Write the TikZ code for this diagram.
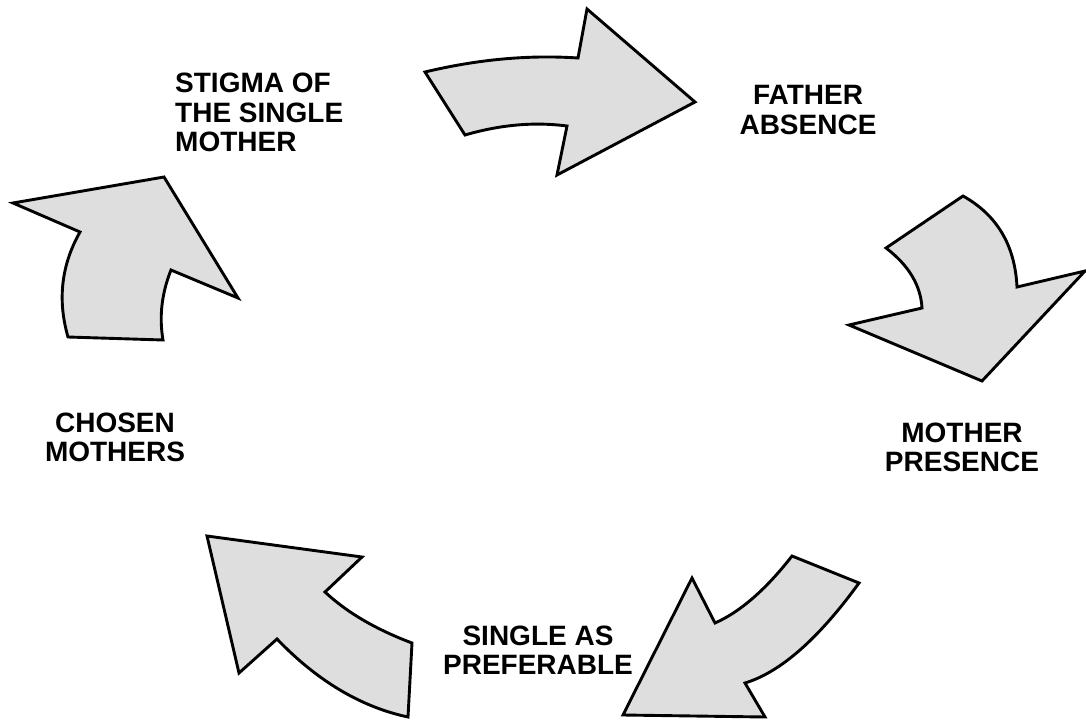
\documentclass[tikz,border=0pt]{standalone}
\usepackage{fontspec}
\setmainfont{Liberation Sans}
\begin{document}
\begin{tikzpicture}[x=1pt,y=-1pt,
  bigarrow/.style={draw=black, line width=2.9pt, fill=black!13, line join=miter, miter limit=20},
  lbl/.style={font=\fontsize{28}{29.5}\selectfont\bfseries, align=center, inner sep=0pt}]
\useasboundingbox (0,0) rectangle (1086,725);
% top arrow
\path[bigarrow] (425,72) -- (465,135) .. controls (500.3,124.7) and (534.3,121.7) .. (567,126)
  -- (557,175) -- (695,102) -- (587,9) -- (578,58) .. controls (529,54.7) and (478,59.3) .. cycle;
% right arrow
\path[bigarrow] (963,196) -- (886,248) .. controls (908.7,265.3) and (920.7,285.3) .. (922,308)
  -- (849,325) -- (982,381) -- (1085,271) -- (1017,287) .. controls (1015,245.3) and (997,215) .. cycle;
% bottom-right arrow
\path[bigarrow] (792,556) -- (859,583) .. controls (818.3,639) and (780.3,672.3) .. (745,683)
  -- (765,717) -- (623,715) -- (692,578) -- (715,623) .. controls (740,612) and (765.7,589.7) .. cycle;
% bottom-left arrow
\path[bigarrow] (207,536) -- (362,557) -- (325,592) .. controls (346.7,612.3) and (375.7,629.3) .. (412,643)
  -- (408,717) .. controls (361,707) and (317.3,681) .. (277,639) -- (239,673) -- cycle;
% left arrow
\path[bigarrow] (164,177) -- (13,203) -- (80,232) .. controls (61.3,265) and (57.3,300) .. (68,337)
  -- (163,340) .. controls (159,316.7) and (161.7,293.3) .. (171,270) -- (238,298) -- cycle;
% labels
\node[lbl, align=left, anchor=west] (stigma) at (175,112.5) {STIGMA OF\\THE SINGLE\\MOTHER};
\node[lbl] (father) at (808,110) {FATHER\\ABSENCE};
\node[lbl] (mother) at (962,447.5) {MOTHER\\PRESENCE};
\node[lbl] (single) at (538,650) {SINGLE AS\\PREFERABLE};
\node[lbl] (chosen) at (115,437.5) {CHOSEN\\MOTHERS};
\end{tikzpicture}
\end{document}
